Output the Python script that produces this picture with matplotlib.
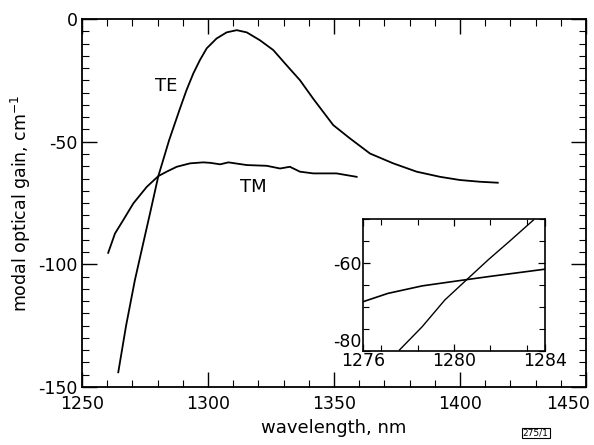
import matplotlib.pyplot as plt
from matplotlib.ticker import MultipleLocator, FixedLocator
from matplotlib.transforms import ScaledTranslation

# ── Data ─────────────────────────────────────────────────────────────────────

te_wl = [1264.4, 1267.5, 1271.0, 1274.3, 1277.0, 1280.3, 1284.6, 1288.9, 1291.5,
         1294.2, 1296.8, 1299.5, 1303.4, 1307.4, 1311.4, 1315.4, 1320.6, 1325.9,
         1331.2, 1336.5, 1341.8, 1349.7, 1356.3, 1364.3, 1373.5, 1382.8, 1392.1,
         1400.0, 1407.9, 1415.0]
te_gain = [-144.0, -125.0, -106.4, -91.4, -79.2, -64.0, -49.3, -36.4, -28.9,
           -22.1, -16.7, -11.9, -7.9, -5.4, -4.5, -5.4, -8.6, -12.6,
           -18.8, -24.9, -32.5, -43.2, -48.6, -54.8, -58.8, -62.2, -64.3,
           -65.6, -66.3, -66.7]

tm_wl = [1260.4, 1263.1, 1266.4, 1270.4, 1275.7, 1280.3, 1283.6, 1287.6, 1292.9,
         1298.1, 1301.0, 1304.8, 1308.1, 1315.4, 1323.3, 1328.6, 1332.5, 1336.5,
         1341.8, 1351.0, 1359.0]
tm_gain = [-95.3, -87.4, -81.9, -75.1, -68.4, -64.0, -62.2, -60.2, -58.8,
           -58.4, -58.6, -59.2, -58.4, -59.5, -59.8, -60.9, -60.2, -62.2,
           -62.9, -62.9, -64.3]

x_ticks = [1250, 1300, 1350, 1400, 1450]
y_ticks = [0, -50, -100, -150]

# inset (zoom around the crossing point)
te_wl_zoom = [1277.6, 1278.6, 1279.6, 1280.6, 1281.5, 1282.5, 1283.5]
te_gain_zoom = [-79.8, -74.5, -68.4, -63.6, -59.3, -54.8, -50.2]
tm_wl_zoom = [1276.0, 1277.1, 1278.6, 1280.1, 1281.5, 1284.0]
tm_gain_zoom = [-68.8, -66.9, -65.2, -64.1, -63.1, -61.4]

inset_x_ticks = [1276, 1280, 1284]
inset_y_ticks = [-60, -80]

# ── Plot ─────────────────────────────────────────────────────────────────────

plt.rcParams["font.family"] = "DejaVu Sans"
plt.rcParams["axes.unicode_minus"] = False

fig = plt.figure(figsize=(5.94, 4.45), dpi=100)
ax = fig.add_axes([0.138, 0.1303, 0.8485, 0.8267])

ax.plot(te_wl, te_gain, color="black", lw=1.3)
ax.plot(tm_wl, tm_gain, color="black", lw=1.3)

ax.set_xlim(1250, 1450)
ax.set_ylim(-150, 0)
ax.set_xticks(x_ticks)
ax.set_yticks(y_ticks)
ax.xaxis.set_minor_locator(MultipleLocator(10))
ax.yaxis.set_minor_locator(MultipleLocator(5))
ax.tick_params(which="both", direction="in", top=True, right=True, labelsize=12.5)
ax.tick_params(which="major", length=11, width=1.0)
ax.tick_params(which="minor", length=5, width=0.8)
ax.tick_params(axis="x", pad=6)
ax.tick_params(axis="y", pad=3)
for s in ax.spines.values():
    s.set_linewidth(1.3)

# last x label sits inside the figure edge, like the original
last = ax.get_xticklabels()[-1]
last.set_horizontalalignment("right")
last.set_transform(last.get_transform() + ScaledTranslation(0.04, 0, fig.dpi_scale_trans))

ax.set_xlabel("wavelength, nm", fontsize=13, labelpad=4)
ax.set_ylabel("modal optical gain, cm$^{-1}$", fontsize=12.5, labelpad=4)

ax.text(1283.3, -27.3, "TE", fontsize=13, ha="center", va="center")
ax.text(1317.9, -68.5, "TM", fontsize=13, ha="center", va="center")

fig.text(0.902, 0.027, "275/1", fontsize=6.5, ha="center", va="center",
         bbox=dict(boxstyle="square,pad=0.1", fc="white", ec="black", lw=0.8))

# ── Inset ────────────────────────────────────────────────────────────────────

ins = fig.add_axes([0.611, 0.2112, 0.3064, 0.2966])
ins.plot(te_wl_zoom, te_gain_zoom, color="black", lw=1.0)
ins.plot(tm_wl_zoom, tm_gain_zoom, color="black", lw=1.2)
ins.set_xlim(1276, 1284)
ins.set_ylim(-80, -50)
ins.set_xticks(inset_x_ticks)
ins.xaxis.set_minor_locator(FixedLocator([1276.8, 1278.4, 1281.6, 1283.2]))
ins.set_yticks(inset_y_ticks)
ins.yaxis.set_minor_locator(MultipleLocator(5))
ins.tick_params(which="both", direction="in", top=True, right=True, labelsize=12.5, pad=1)
ins.tick_params(which="major", length=5, width=0.9)
ins.tick_params(which="minor", length=4, width=0.8)
for s in ins.spines.values():
    s.set_linewidth(1.2)

# lift "-80" a little so it clears "1276"
ins.get_yticklabels()[-1].set_verticalalignment("bottom")

fig.savefig("out.png", dpi=100)
